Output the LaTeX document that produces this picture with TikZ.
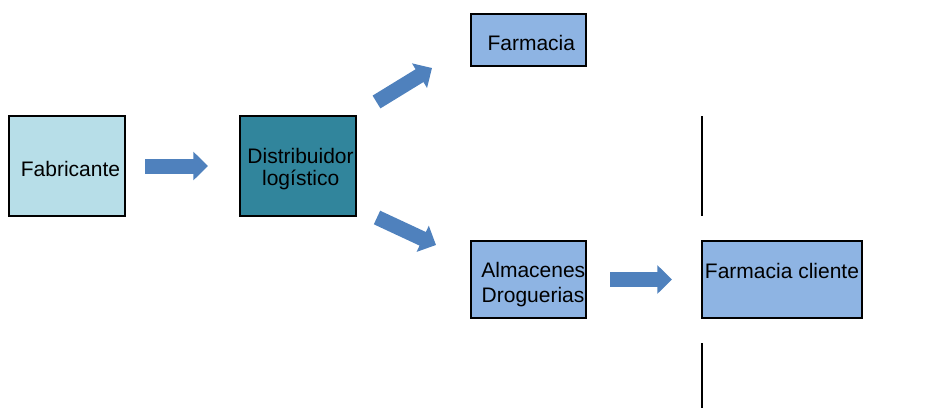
\documentclass[tikz,border=0pt]{standalone}
\usepackage{fontspec}
\setmainfont{Liberation Sans}
\usetikzlibrary{arrows.meta}
\usetikzlibrary{calc}
\definecolor{fabfill}{HTML}{B7DEE8}
\definecolor{distfill}{HTML}{31859C}
\definecolor{boxfill}{HTML}{8EB4E3}
\definecolor{arrowfill}{HTML}{4F81BD}
\tikzset{
  caja/.style={draw, line width=1.6pt, fill=boxfill, inner sep=0pt},
  texto/.style={font=\fontsize{15.75}{18}\selectfont, inner sep=0pt},
  flecha/.style={draw=arrowfill, line width=11.25pt,
    -{Triangle[width=21pt, length=11pt, fill=arrowfill]}},
  corte/.style={line width=1.5pt}
}

\begin{document}
\begin{tikzpicture}[x=0.75pt, y=-0.75pt]
      \useasboundingbox (0,0) rectangle (951,408);

      \node[caja, fill=fabfill, minimum width=87pt, minimum height=75pt,
        label={[texto, xshift=2.6pt, yshift=-2.4pt]center:Fabricante}] (fab) at (67,166) {};
      \node[caja, fill=distfill, minimum width=87pt, minimum height=75pt,
        label={[texto, xshift=1.9pt, yshift=7.6pt]center:Distribuidor},
        label={[texto, xshift=2pt, yshift=-10.1pt]center:log\'istico}] (dist) at (298,166) {};
      \node[caja, minimum width=86.25pt, minimum height=39pt,
        label={[texto, xshift=2.1pt, yshift=-1.9pt]center:Farmacia}] (farm) at (528.5,40) {};
      \node[caja, minimum width=86.25pt, minimum height=57.75pt,
        label={[texto, xshift=3.6pt, yshift=7.4pt]center:Almacenes},
        label={[texto, xshift=3.4pt, yshift=-13.2pt]center:Droguerias}] (alm) at (528.5,279.5) {};
      \node[caja, minimum width=120pt, minimum height=57.75pt,
        label={[texto, yshift=6.5pt]center:Farmacia cliente}] (cli) at (782,279.5) {};

      \coordinate (a2s) at (376.5,102);
      \coordinate (a2e) at (432,68);
      \coordinate (a3s) at (377,217.5);
      \coordinate (a3e) at (436,245);

      \draw[flecha, yshift=-1.5pt, shorten <=14.25pt, shorten >=23.25pt] (fab.east) -- (dist.west);
      \draw[flecha] (a2s) -- (a2e);
      \draw[flecha] (a3s) -- (a3e);
      \draw[flecha, yshift=1.5pt, shorten <=17.25pt, shorten >=21.75pt] (alm.east) -- (cli.west);

      \coordinate (c1) at (702,116);
      \coordinate (c2) at (702,216);
      \coordinate (c3) at (702,343);
      \coordinate (c4) at (702,408);
      \draw[corte] (c1) -- (c2);
      \draw[corte] (c3) -- (c4);
    \end{tikzpicture}
\end{document}
